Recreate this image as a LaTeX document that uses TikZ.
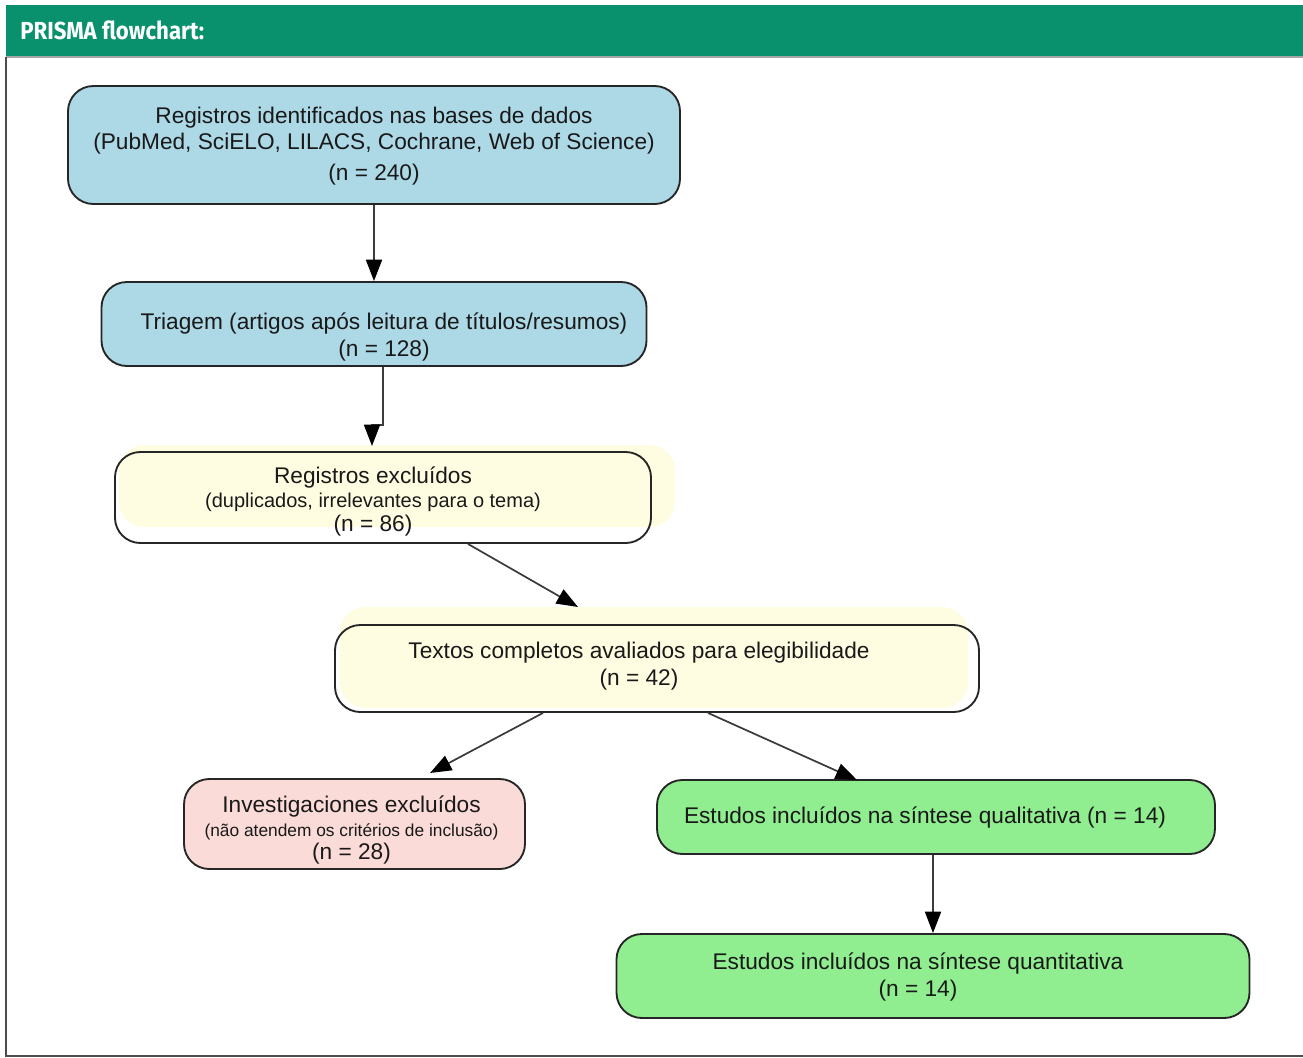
\documentclass[tikz,border=0pt]{standalone}
\usepackage{fontspec}
\setmainfont{Liberation Sans}
\newfontfamily\titlefont[FakeStretch=0.9]{Fira Sans}
\usetikzlibrary{arrows.meta}
\definecolor{hdr}{HTML}{08916C}
\definecolor{bluebox}{HTML}{ADD8E6}
\definecolor{yelbox}{HTML}{FFFDE1}
\definecolor{pinkbox}{HTML}{FADBD8}
\definecolor{greenbox}{HTML}{90EE90}
\definecolor{linegray}{HTML}{3C3C3C}
\begin{document}
\begin{tikzpicture}[x=0.75pt,y=-0.75pt,
  box/.style={draw=black!85, line width=1.4pt, rounded corners=19pt, inner sep=0pt},
  yfill/.style={fill=yelbox, draw=none, rounded corners=19pt, inner sep=0pt},
  txt/.style={align=center, font=\fontsize{17}{20}\selectfont, inner sep=0pt, text=black!90},
  arr/.style={draw=linegray, line width=1.3pt, -{Triangle[length=16pt,width=12pt,color=black]}},
]
\useasboundingbox (0,0) rectangle (1303,1057);
\fill[hdr] (6,5) rectangle (1303,57);
\node[anchor=west, text=white, font=\titlefont\bfseries\fontsize{18.5}{21}\selectfont, inner sep=0pt] (title) at (20,30) {PRISMA flowchart:};
\draw[gray!70, line width=1.2pt] (6,57) -- (1303,57);
\draw[black!70, line width=1.2pt] (6,57) -- (6,1056) -- (1303,1056);

% yellow offset fills
\node[yfill, minimum width=417pt, minimum height=61.5pt] (f3) at (397,486) {};
\node[yfill, minimum width=471pt, minimum height=75.75pt] (f4) at (654,657.5) {};

% boxes
\node[box, fill=bluebox, minimum width=459pt, minimum height=88.5pt] (n1) at (374,145) {};
\node[box, fill=bluebox, minimum width=408.75pt, minimum height=63pt] (n2) at (374,324) {};
\node[box, minimum width=402pt, minimum height=68.25pt] (n3) at (383,497.5) {};
\node[box, minimum width=483pt, minimum height=65.25pt] (n4) at (657,668.5) {};
\node[box, fill=pinkbox, minimum width=255.75pt, minimum height=67.5pt] (n5) at (354.5,824) {};
\node[box, fill=greenbox, minimum width=418.5pt, minimum height=55.5pt] (n6) at (936,817) {};
\node[box, fill=greenbox, minimum width=474.75pt, minimum height=63pt] (n7) at (933,976) {};

% texts
\node[txt] (t1) at (374,146) {Registros identificados nas bases de dados\\(PubMed, SciELO, LILACS, Cochrane, Web of Science)\\[3pt](n = 240)};
\node[txt] (t2) at (384,337) {Triagem (artigos após leitura de títulos/resumos)\\(n = 128)};
\node[txt, font=\fontsize{17}{18}\selectfont] (t3) at (373,501) {Registros excluídos\\{\fontsize{15}{17}\selectfont (duplicados, irrelevantes para o tema)}\\(n = 86)};
\node[txt] (t4) at (639,666) {Textos completos avaliados para elegibilidade\\(n = 42)};
\node[txt, font=\fontsize{17}{17.5}\selectfont] (t5) at (351.5,830) {Investigaciones excluídos\\{\fontsize{13}{16}\selectfont (não atendem os critérios de inclusão)}\\(n = 28)};
\node[txt] (t6) at (925,817) {Estudos incluídos na síntese qualitativa (n = 14)};
\node[txt] (t7) at (918,977) {Estudos incluídos na síntese quantitativa\\(n = 14)};

% connectors
\coordinate (c2) at (372,446);
\coordinate (c3) at (578,607);
\coordinate (c4a) at (430,773);
\coordinate (c4b) at (857,780);
\draw[arr] (n1.south) -- (n2.north);
\draw[arr] ([xshift=6.75pt]n2.south) -- ++(0,58) -- ++(-11,0) -- (c2);
\draw[arr] ([xshift=63.75pt]n3.south) -- (c3);
\draw[arr] ([xshift=-85.5pt]n4.south) -- (c4a);
\draw[arr] ([xshift=38.25pt]n4.south) -- (c4b);
\draw[arr] (n6.south -| n7.north) -- (n7.north);
\end{tikzpicture}
\end{document}
